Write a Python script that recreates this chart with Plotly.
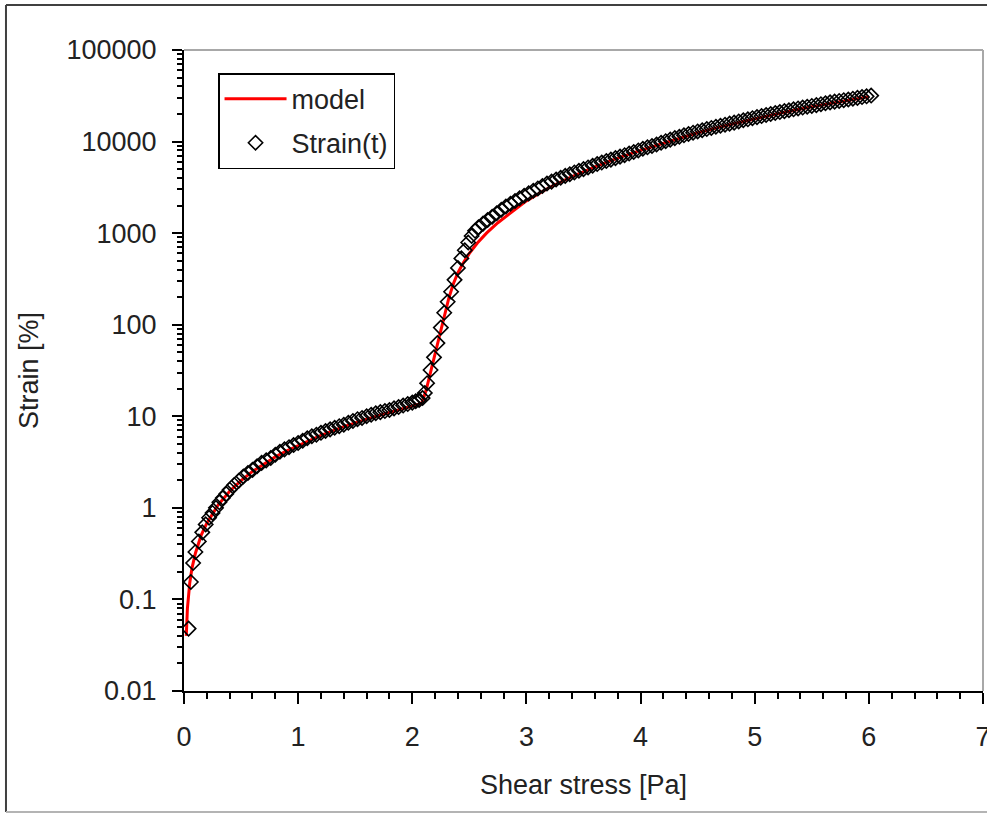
import plotly.graph_objects as go

# ---------------- data ----------------
strain_x = [0.04, 0.06, 0.08, 0.10, 0.13, 0.16, 0.19, 0.22, 0.25, 0.28, 0.31, 0.34, 0.37, 0.40,
            0.44, 0.48, 0.52, 0.56, 0.60, 0.64, 0.68, 0.72, 0.76, 0.80, 0.84, 0.88, 0.92, 0.96,
            1.00, 1.04, 1.08, 1.12, 1.16, 1.20, 1.24, 1.28, 1.32, 1.36, 1.40, 1.44, 1.48, 1.52,
            1.56, 1.60, 1.64, 1.68, 1.72, 1.76, 1.80, 1.84, 1.88, 1.92, 1.96, 2.00, 2.03, 2.06,
            2.09, 2.11, 2.13, 2.16, 2.19, 2.22, 2.25, 2.28, 2.31, 2.34, 2.37, 2.40, 2.43, 2.46,
            2.49, 2.52, 2.55, 2.58, 2.62, 2.66, 2.70, 2.74, 2.78, 2.82, 2.86, 2.90, 2.94, 2.98,
            3.02, 3.06, 3.10, 3.14, 3.18, 3.22, 3.26, 3.30, 3.34, 3.38, 3.42, 3.46, 3.50, 3.54,
            3.58, 3.62, 3.66, 3.70, 3.74, 3.78, 3.82, 3.86, 3.90, 3.94, 3.98, 4.02, 4.06, 4.10,
            4.14, 4.18, 4.22, 4.26, 4.30, 4.34, 4.38, 4.42, 4.46, 4.50, 4.54, 4.58, 4.62, 4.66,
            4.70, 4.74, 4.78, 4.82, 4.86, 4.90, 4.94, 4.98, 5.02, 5.06, 5.10, 5.14, 5.18, 5.22,
            5.26, 5.30, 5.34, 5.38, 5.42, 5.46, 5.50, 5.54, 5.58, 5.62, 5.66, 5.70, 5.74, 5.78,
            5.82, 5.86, 5.90, 5.94, 5.98, 6.02]
strain_y = [0.048, 0.155, 0.25, 0.33, 0.43, 0.54, 0.66, 0.78, 0.88, 1.0, 1.15, 1.28, 1.42, 1.58,
            1.78, 1.98, 2.2, 2.4, 2.6, 2.85, 3.1, 3.3, 3.5, 3.8, 4.1, 4.35, 4.6, 4.85,
            5.1, 5.4, 5.75, 6.05, 6.3, 6.6, 6.9, 7.2, 7.5, 7.8, 8.1, 8.5, 8.9, 9.3,
            9.6, 10.0, 10.4, 10.8, 11.1, 11.4, 11.7, 12.2, 12.6, 13.1, 13.6, 14.1, 14.6, 15.1,
            15.8, 18, 23, 32, 44, 63, 93, 135, 178, 229, 309, 417, 530, 650,
            790, 930, 1060, 1160, 1270, 1390, 1510, 1650, 1800, 1950, 2090, 2240, 2400, 2560,
            2720, 2900, 3080, 3270, 3480, 3650, 3850, 4030, 4220, 4400, 4600, 4800, 5000, 5220,
            5450, 5680, 5900, 6130, 6350, 6600, 6850, 7100, 7400, 7700, 8000, 8350, 8650, 8950,
            9300, 9700, 10100, 10500, 10900, 11300, 11700, 12100, 12500, 12900, 13300, 13700, 14100, 14500,
            14900, 15300, 15700, 16100, 16600, 17100, 17500, 18000, 18500, 19000, 19500, 20000, 20500, 21000,
            21500, 22000, 22500, 23000, 23500, 24000, 24500, 25000, 25600, 26200, 26800, 27300, 27800, 28300,
            28800, 29400, 30000, 30600, 31200, 31800]

model_x = [0.02, 0.03, 0.05, 0.07, 0.10, 0.15, 0.20, 0.30, 0.40, 0.50, 0.60, 0.70, 0.80, 0.90,
           1.00, 1.20, 1.40, 1.60, 1.80, 2.00, 2.08, 2.10, 2.12, 2.15, 2.20, 2.24, 2.28, 2.32,
           2.36, 2.40, 2.45, 2.50, 2.57, 2.65, 2.75, 2.88, 3.00, 3.20, 3.40, 3.60, 3.80, 4.00,
           4.25, 4.50, 4.75, 5.00, 5.25, 5.50, 5.75, 6.00]
model_y = [0.04, 0.08, 0.15, 0.22, 0.32, 0.5, 0.68, 1.08, 1.52, 1.98, 2.5, 3.0, 3.6, 4.2,
           4.8, 6.2, 7.7, 9.3, 11.0, 12.8, 13.8, 16, 19, 27, 48, 80, 128, 195,
           280, 370, 480, 600, 780, 1000, 1300, 1750, 2250, 3150, 4150, 5300, 6600, 8000,
           10100, 12500, 15000, 17800, 20800, 24000, 27300, 30800]

y_tick_vals = [0.01, 0.1, 1, 10, 100, 1000, 10000, 100000]
y_tick_text = ["0.01", "0.1", "1", "10", "100", "1000", "10000", "100000"]
x_tick_vals = [0, 1, 2, 3, 4, 5, 6, 7]

y_minor_vals = [m * 10 ** k for k in range(-2, 5) for m in range(2, 10)]

FONT = "Liberation Sans, Arial, sans-serif"
TXT = "#222222"

fig = go.Figure()
fig.add_trace(go.Scatter(
    x=model_x, y=model_y, mode="lines", name="model",
    line=dict(color="#ff0000", width=3), legendgroup="a"))
fig.add_trace(go.Scatter(
    x=strain_x, y=strain_y, mode="markers", name="Strain(t)",
    marker=dict(symbol="diamond-open", size=11, color="black",
                line=dict(color="black", width=1.6)), legendgroup="b"))

fig.update_layout(
    template="none",
    width=987, height=814,
    margin=dict(l=184, r=4, t=50, b=123),
    paper_bgcolor="white", plot_bgcolor="white",
    font=dict(family=FONT, size=27, color=TXT),
    showlegend=True,
    legend=dict(x=0.0426, y=0.964, xanchor="left", yanchor="top",
                bgcolor="white", bordercolor="black", borderwidth=1.5,
                font=dict(family=FONT, size=27, color=TXT),
                itemwidth=62, tracegroupgap=6),
    xaxis=dict(range=[0, 7], tickvals=x_tick_vals, showgrid=False, zeroline=False,
               showline=True, linecolor="black", linewidth=2,
               ticks="outside", ticklen=11, tickwidth=2, tickcolor="black",
               minor=dict(dtick=0.2, ticks="outside", ticklen=6, tickwidth=2, tickcolor="black"),
               tickfont=dict(family=FONT, size=27, color=TXT),
               ticklabelstandoff=10, ticklabeloverflow="allow", automargin=False,
               title=dict(text="Shear stress [Pa]", standoff=24,
                          font=dict(family=FONT, size=27, color=TXT))),
    yaxis=dict(type="log", range=[-2, 5], tickvals=y_tick_vals, ticktext=y_tick_text,
               showgrid=False, zeroline=False,
               showline=True, linecolor="black", linewidth=2,
               ticks="outside", ticklen=10, tickwidth=2, tickcolor="black",
               minor=dict(tickvals=y_minor_vals, ticks="outside", ticklen=5, tickwidth=2,
                          tickcolor="black"),
               tickfont=dict(family=FONT, size=27, color=TXT),
               ticklabelstandoff=10, ticklabeloverflow="allow", automargin=False,
               title=dict(text="Strain [%]", standoff=20,
                          font=dict(family=FONT, size=27, color=TXT))),
)

# plot-area frame (top/right in grey) and the outer window-like frame
fig.add_shape(type="line", xref="paper", yref="paper", x0=0, x1=1, y0=1, y1=1,
              line=dict(color="#a8a8a8", width=2))
fig.add_shape(type="line", xref="paper", yref="paper", x0=1, x1=1, y0=0, y1=1,
              line=dict(color="#a8a8a8", width=2))
fig.add_shape(type="line", xref="paper", yref="paper", x0=-0.2228, x1=1.02, y0=1.0702, y1=1.0702,
              line=dict(color="#404040", width=2))
fig.add_shape(type="line", xref="paper", yref="paper", x0=-0.2228, x1=-0.2228, y0=-0.1888, y1=1.0702,
              line=dict(color="#404040", width=2))
fig.add_shape(type="line", xref="paper", yref="paper", x0=-0.2228, x1=1.02, y0=-0.1888, y1=-0.1888,
              line=dict(color="#b4b4b4", width=2))

fig.write_html("out.html")
